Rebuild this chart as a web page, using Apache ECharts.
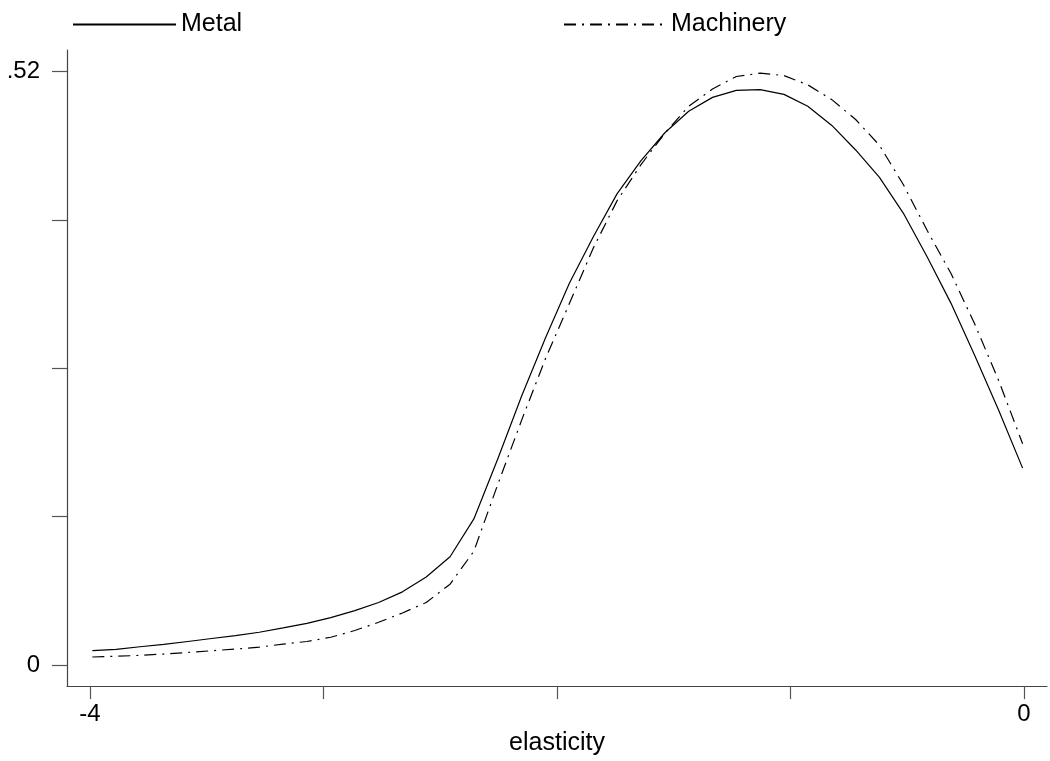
<!DOCTYPE html>
<html>
<head>
<meta charset="utf-8">
<script src="https://cdn.jsdelivr.net/npm/echarts@6/dist/echarts.min.js"></script>
<style>
html,body{margin:0;padding:0;background:#fff;overflow:hidden;}
#chart{width:1050px;height:761px;}
</style>
</head>
<body>
<div id="chart"></div>
<script>
// elasticity grid points (x)
var elasticity = [-3.990,-3.888,-3.786,-3.684,-3.581,-3.479,-3.377,-3.275,-3.173,-3.071,
  -2.969,-2.866,-2.764,-2.662,-2.560,-2.458,-2.356,-2.253,-2.151,-2.049,
  -1.947,-1.845,-1.743,-1.641,-1.538,-1.436,-1.334,-1.232,-1.130,-1.028,
  -0.926,-0.823,-0.721,-0.619,-0.517,-0.415,-0.313,-0.210,-0.108,-0.006];
var metal = [0.0125,0.0137,0.0160,0.0180,0.0206,0.0232,0.0258,0.0287,0.0325,0.0365,
  0.0415,0.0476,0.0548,0.0641,0.0771,0.0948,0.1280,0.1809,0.2360,0.2867,
  0.3345,0.3751,0.4128,0.4417,0.4664,0.4852,0.4974,0.5035,0.5041,0.5000,
  0.4896,0.4728,0.4513,0.4273,0.3960,0.3577,0.3171,0.2708,0.2230,0.1725];
var machinery = [0.0070,0.0077,0.0084,0.0096,0.0110,0.0125,0.0139,0.0157,0.0183,0.0206,
  0.0243,0.0302,0.0374,0.0456,0.0548,0.0708,0.0997,0.1586,0.2148,0.2686,
  0.3167,0.3652,0.4067,0.4383,0.4660,0.4896,0.5047,0.5157,0.5186,0.5165,
  0.5084,0.4954,0.4780,0.4554,0.4210,0.3809,0.3432,0.2983,0.2490,0.1939];
var xTicks = [-4,-3,-2,-1,0];
var xLabels = [-4,0];
var yTicks = [0,0.13,0.26,0.39,0.52];
var yLabels = [0,0.52];

function pairs(xs, ys){ return xs.map(function(x,i){ return [x, ys[i]]; }); }

var chart = echarts.init(document.getElementById('chart'));
var font = 'Liberation Sans, Arial, Helvetica, sans-serif';
chart.setOption({
  animation:false,
  backgroundColor:'#fff',
  legend:[
    {data:['Metal'], left:67, top:7, itemWidth:103, itemHeight:10, itemStyle:{opacity:0},
     textStyle:{fontFamily:font,fontSize:25,color:'#000'}},
    {data:['Machinery'], left:558, top:7, itemWidth:102, itemHeight:10, itemStyle:{opacity:0},
     textStyle:{fontFamily:font,fontSize:25,color:'#000'}}
  ],
  grid:{left:67, right:3, top:50, bottom:70, containLabel:false},
  xAxis:{
    type:'value', min:-4.0985, max:0.0985,
    name:'elasticity', nameLocation:'middle', nameGap:42,
    nameTextStyle:{fontFamily:font,fontSize:25,color:'#000'},
    axisLine:{show:true,onZero:false,lineStyle:{color:'#444',width:1.2}},
    axisTick:{show:true,length:13,customValues:xTicks,lineStyle:{color:'#555',width:1.2}},
    axisLabel:{show:true,customValues:xLabels,margin:16,fontFamily:font,fontSize:24,color:'#000',
      formatter:function(v){ return String(v); }},
    splitLine:{show:false}
  },
  yAxis:{
    type:'value', min:-0.0185, max:0.5389,
    axisLine:{show:true,onZero:false,lineStyle:{color:'#444',width:1.2}},
    axisTick:{show:true,length:15,customValues:yTicks,lineStyle:{color:'#555',width:1.2}},
    axisLabel:{show:true,customValues:yLabels,margin:27,fontFamily:font,fontSize:24,color:'#000',
      formatter:function(v){ return v===0 ? '0' : String(v).replace(/^0/,''); }},
    splitLine:{show:false}
  },
  series:[
    {name:'Metal', type:'line', data:pairs(elasticity, metal), symbol:'none', smooth:false,
     lineStyle:{color:'#000',width:1.2,type:'solid'}, itemStyle:{color:'#000'}},
    {name:'Machinery', type:'line', data:pairs(elasticity, machinery), symbol:'none', smooth:false,
     lineStyle:{color:'#000',width:1.2,type:[12,6,2,6]}, itemStyle:{color:'#000'}}
  ]
});
</script>
</body>
</html>
